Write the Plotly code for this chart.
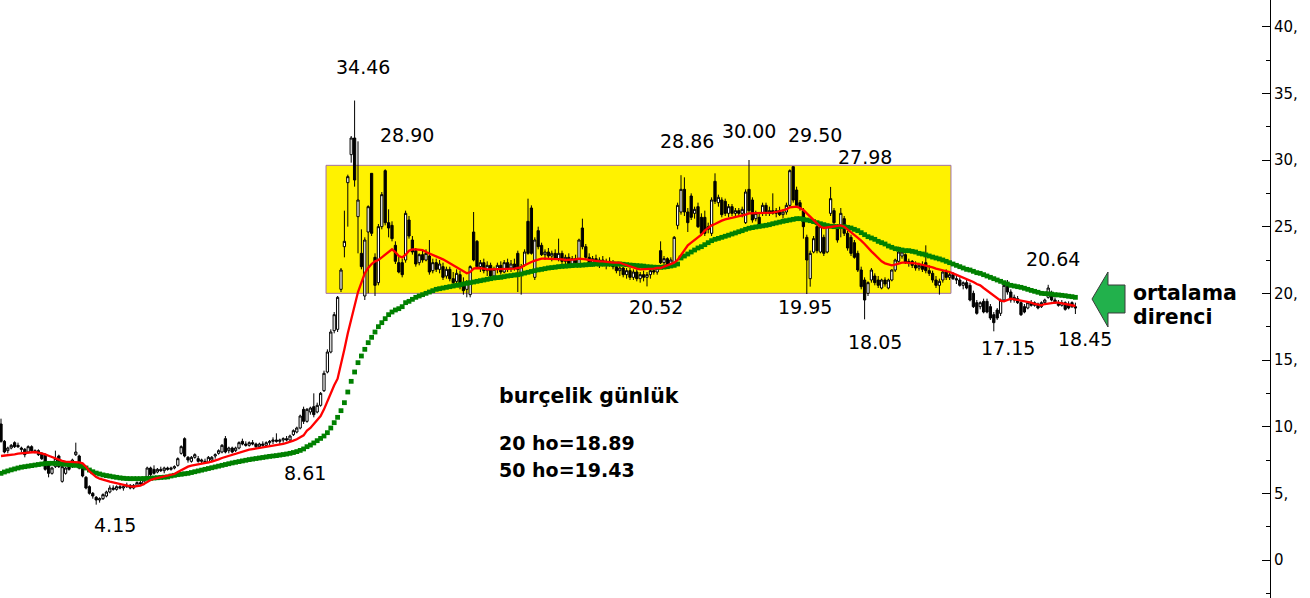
import plotly.graph_objects as go

# ---------------- data ----------------
open_ = [
    10.2, 8.9, 8.2, 8.4, 8.8, 8.6, 8.4, 8.3, 8.1, 8.5,
    8.2, 8.2, 8.0, 7.9, 7.3, 6.5, 7.0, 7.8, 5.9, 6.5,
    7.1, 7.0, 7.9, 7.8, 6.9, 6.2, 5.5, 5.0, 4.7, 4.5,
    4.6, 4.8, 5.1, 5.4, 5.3, 5.5, 5.4, 5.5, 5.6, 5.4,
    5.6, 5.8, 5.7, 6.2, 6.9, 6.8, 6.6, 6.8, 6.7, 6.9,
    6.8, 6.9, 7.1, 8.0, 9.1, 7.7, 7.4, 7.7, 7.6, 7.4,
    7.4, 7.3, 7.5, 7.8, 8.0, 8.1, 9.1, 8.2, 8.4, 8.2,
    8.4, 8.9, 8.7, 8.6, 8.8, 8.7, 8.5, 8.7, 8.6, 8.8,
    8.9, 9.0, 8.9, 9.0, 9.1, 9.0, 9.4, 9.6, 9.9, 11.3,
    10.4, 11.1, 11.5, 11.1, 11.6, 12.7, 14.1, 15.6, 17.2, 17.3,
    20.3, 23.5, 28.3, 30.4, 31.65, 25.75, 23.0, 19.8, 24.6, 29.0,
    22.7, 20.8, 25.0, 29.2, 25.3, 25.1, 23.6, 22.3, 22.3, 22.5,
    25.5, 24.0, 23.2, 22.3, 22.9, 22.5, 22.8, 21.7, 22.3, 21.8,
    22.0, 21.3, 21.8, 21.1, 20.9, 21.4, 20.6, 20.3, 19.9, 24.6,
    23.9, 22.0, 22.3, 21.7, 22.1, 21.3, 21.8, 22.1, 21.6, 22.3,
    21.9, 22.2, 23.0, 21.5, 22.1, 25.4, 26.4, 21.2, 24.7, 23.6,
    22.9, 23.1, 22.8, 23.0, 22.6, 23.0, 22.4, 22.7, 22.2, 22.6,
    22.1, 24.9, 23.5, 22.7, 22.3, 22.6, 22.2, 22.5, 22.1, 22.4,
    22.2, 22.0, 21.7, 21.9, 21.4, 21.7, 21.2, 21.6, 21.1, 21.4,
    21.2, 21.4, 21.7, 21.6, 23.2, 22.3, 22.6, 22.1, 22.3, 25.1,
    26.1, 27.8, 26.1, 27.3, 26.0, 26.5, 25.7, 25.7, 25.0, 24.5,
    28.4, 26.8, 27.0, 26.9, 26.0, 26.5, 26.0, 26.2, 26.0, 25.3,
    27.8, 27.0, 25.6, 25.7, 26.0, 26.6, 26.0, 26.2, 26.0, 26.2,
    25.9, 26.1, 26.6, 29.5, 27.75, 26.8, 26.2, 24.2, 21.1, 23.1,
    25.0, 23.1, 24.2, 23.1, 26.0, 26.2, 25.0, 24.9, 25.6, 24.5,
    24.2, 23.8, 23.0, 21.75, 21.0, 20.0, 21.0, 21.3, 21.0, 20.4,
    21.0, 20.4, 21.0, 21.75, 22.4, 22.8, 22.9, 22.3, 22.4, 22.1,
    21.9, 22.1, 22.3, 21.7, 21.5, 21.0, 20.6, 21.0, 21.6, 21.2,
    21.4, 21.1, 21.0, 20.6, 20.8, 20.6, 20.0, 19.3, 19.0, 19.4,
    19.4, 19.0, 18.4, 18.75, 18.5, 19.5, 20.8, 20.1, 19.5, 19.6,
    19.3, 19.0, 18.9, 19.3, 19.1, 19.2, 19.0, 19.3, 19.7, 20.0,
    19.5, 19.3, 19.1, 19.3, 19.2, 19.3, 19.0,
]
high = [
    10.6, 9.0, 8.5, 8.7, 8.9, 8.8, 8.5, 8.4, 8.6, 8.6,
    8.3, 8.3, 8.1, 8.0, 7.4, 7.0, 8.2, 7.9, 7.1, 7.0,
    7.2, 7.6, 8.8, 7.9, 7.0, 6.3, 5.6, 5.1, 4.8, 4.7,
    5.0, 5.2, 5.6, 5.6, 5.6, 5.7, 5.6, 5.8, 5.7, 5.7,
    5.9, 6.1, 6.1, 7.0, 7.0, 7.1, 6.9, 7.0, 7.0, 7.0,
    7.0, 7.1, 7.7, 8.6, 9.2, 7.8, 7.8, 8.0, 7.8, 7.6,
    7.6, 7.8, 7.8, 8.0, 8.3, 8.7, 9.3, 8.5, 8.5, 8.5,
    8.9, 9.1, 8.9, 8.9, 9.0, 8.8, 8.8, 8.9, 8.9, 9.0,
    9.2, 9.5, 9.1, 9.2, 9.3, 9.4, 9.8, 10.0, 10.9, 11.5,
    11.4, 11.5, 12.5, 11.8, 12.6, 14.2, 15.8, 17.3, 18.6, 19.8,
    21.9, 26.2, 28.9, 31.8, 34.46, 31.4, 24.8, 24.2, 26.6, 29.0,
    23.0, 25.2, 27.6, 29.3, 26.3, 25.4, 23.9, 22.8, 22.6, 26.2,
    25.8, 24.3, 23.4, 23.0, 23.2, 23.3, 24.0, 22.6, 22.6, 22.5,
    22.3, 22.0, 22.0, 21.6, 21.8, 21.7, 21.2, 21.0, 22.1, 26.1,
    24.0, 22.5, 22.6, 22.4, 22.3, 22.0, 22.3, 22.4, 22.5, 22.6,
    22.5, 22.6, 23.2, 22.2, 23.3, 27.1, 26.6, 24.2, 25.0, 23.8,
    23.3, 23.4, 23.2, 23.3, 24.1, 23.2, 22.9, 23.0, 22.8, 22.9,
    24.1, 25.6, 23.7, 23.0, 22.8, 22.9, 22.7, 22.8, 22.6, 22.7,
    22.5, 22.3, 22.1, 22.0, 21.9, 21.9, 21.8, 21.8, 21.6, 21.7,
    21.6, 21.8, 22.0, 22.1, 23.9, 22.8, 22.7, 22.7, 24.3, 26.8,
    28.86, 28.7, 26.4, 27.5, 26.5, 26.8, 26.0, 26.2, 25.3, 27.2,
    29.0, 27.4, 27.2, 27.1, 26.7, 26.7, 26.4, 26.4, 26.5, 27.8,
    30.0, 27.2, 26.2, 26.0, 26.8, 26.8, 26.5, 27.5, 26.4, 26.5,
    26.3, 26.8, 29.3, 29.5, 28.0, 27.0, 26.4, 24.4, 23.2, 24.3,
    25.2, 25.2, 24.4, 25.2, 27.98, 26.4, 25.2, 26.4, 25.8, 24.7,
    24.4, 24.0, 23.2, 22.0, 21.2, 20.9, 21.9, 21.5, 21.3, 21.1,
    21.2, 21.1, 21.8, 22.6, 23.5, 23.3, 23.0, 22.6, 22.5, 22.4,
    22.3, 22.4, 23.6, 22.1, 21.7, 21.3, 21.1, 21.7, 21.8, 21.6,
    21.6, 21.4, 21.2, 20.9, 21.0, 20.8, 20.2, 19.5, 19.4, 19.6,
    19.6, 19.2, 18.6, 18.9, 19.6, 20.8, 21.0, 20.3, 19.9, 19.8,
    19.5, 19.2, 19.4, 19.5, 19.4, 19.3, 19.4, 19.6, 20.64, 20.2,
    19.7, 19.5, 19.5, 19.4, 19.4, 19.4, 19.3,
]
low = [
    8.8, 8.0, 8.0, 8.3, 8.4, 8.4, 8.1, 7.7, 8.0, 8.1,
    8.0, 7.8, 7.5, 6.7, 6.2, 6.4, 6.9, 6.9, 5.8, 6.4,
    6.7, 6.9, 7.8, 6.8, 6.2, 5.3, 4.9, 4.6, 4.15, 4.3,
    4.5, 4.7, 5.0, 5.2, 5.2, 5.3, 5.2, 5.4, 5.3, 5.3,
    5.5, 5.6, 5.6, 6.1, 6.3, 6.4, 6.5, 6.6, 6.5, 6.7,
    6.7, 6.8, 7.0, 7.9, 7.7, 7.3, 7.3, 7.6, 7.3, 7.2,
    7.2, 7.3, 7.4, 7.6, 7.9, 8.0, 8.0, 8.0, 8.0, 8.1,
    8.3, 8.6, 8.5, 8.5, 8.6, 8.4, 8.4, 8.5, 8.5, 8.6,
    8.7, 8.8, 8.7, 8.8, 8.9, 8.9, 9.3, 9.5, 9.8, 10.2,
    10.3, 10.9, 10.7, 11.0, 11.5, 12.6, 14.0, 15.5, 17.0, 17.1,
    20.1, 22.7, 25.0, 29.8, 28.0, 23.0, 21.8, 19.5, 20.0, 24.3,
    19.8, 20.6, 24.8, 25.1, 24.2, 23.9, 22.2, 21.5, 21.2, 22.3,
    24.1, 22.9, 22.0, 22.1, 22.3, 22.4, 21.4, 21.5, 21.6, 21.5,
    21.0, 21.1, 20.9, 20.6, 20.7, 20.3, 19.9, 19.7, 19.7, 22.4,
    21.9, 21.6, 21.5, 21.3, 21.1, 21.0, 21.5, 21.4, 21.5, 21.6,
    21.6, 21.7, 20.1, 19.9, 22.0, 22.9, 22.9, 21.0, 23.3, 22.8,
    22.5, 22.6, 22.4, 22.5, 22.4, 22.2, 22.1, 22.0, 22.0, 22.1,
    22.0, 23.3, 22.5, 22.1, 22.0, 22.1, 21.9, 22.0, 21.8, 22.0,
    21.8, 21.5, 21.3, 21.2, 21.1, 21.0, 21.0, 20.9, 20.8, 20.9,
    20.52, 21.1, 21.4, 21.4, 22.2, 22.0, 22.0, 21.9, 22.2, 24.8,
    25.9, 25.8, 24.6, 25.5, 25.6, 24.9, 24.3, 24.3, 24.5, 24.3,
    26.7, 26.5, 25.7, 25.8, 25.7, 25.8, 25.8, 25.8, 25.7, 25.2,
    26.0, 25.3, 25.4, 24.9, 25.8, 25.8, 25.8, 25.9, 25.7, 25.8,
    25.6, 25.9, 26.4, 26.8, 26.4, 26.2, 24.1, 19.95, 20.5, 23.0,
    23.0, 23.0, 22.8, 23.0, 25.8, 25.1, 23.8, 24.2, 24.3, 23.2,
    22.8, 22.6, 21.6, 20.3, 18.05, 19.8, 20.8, 20.6, 20.4, 20.3,
    20.5, 20.3, 20.9, 21.6, 22.3, 22.6, 22.2, 22.0, 21.9, 21.7,
    21.7, 21.6, 21.5, 21.3, 20.8, 20.4, 19.9, 20.8, 21.0, 21.0,
    21.0, 20.7, 20.5, 20.3, 20.3, 19.4, 18.9, 18.4, 18.8, 18.5,
    18.5, 18.0, 17.15, 18.0, 18.3, 19.4, 19.9, 19.3, 19.3, 19.2,
    18.3, 18.5, 18.8, 19.0, 19.0, 18.8, 18.9, 19.2, 19.6, 19.4,
    19.2, 19.0, 19.0, 18.7, 18.8, 18.9, 18.45,
]
close = [
    8.9, 8.1, 8.4, 8.6, 8.5, 8.5, 8.3, 7.9, 8.5, 8.2,
    8.1, 7.9, 7.6, 6.8, 6.5, 6.9, 7.6, 7.0, 7.0, 6.9,
    6.8, 7.5, 8.1, 6.9, 6.3, 5.4, 5.0, 4.8, 4.5, 4.6,
    4.9, 5.1, 5.4, 5.3, 5.5, 5.4, 5.5, 5.6, 5.4, 5.6,
    5.8, 5.7, 6.0, 6.9, 6.4, 6.5, 6.8, 6.7, 6.9, 6.8,
    6.9, 7.0, 7.6, 8.5, 7.8, 7.5, 7.7, 7.9, 7.4, 7.5,
    7.3, 7.7, 7.7, 7.9, 8.2, 8.6, 8.1, 8.4, 8.1, 8.4,
    8.8, 8.7, 8.6, 8.8, 8.7, 8.5, 8.7, 8.6, 8.8, 8.9,
    9.0, 8.9, 9.0, 9.1, 9.0, 9.3, 9.7, 9.9, 10.8, 10.4,
    11.3, 11.4, 10.9, 11.6, 12.5, 14.0, 15.6, 17.1, 18.4, 19.7,
    21.75, 23.9, 28.75, 31.65, 28.5, 27.0, 22.0, 24.0, 26.5, 24.5,
    20.6, 25.0, 27.4, 25.3, 24.9, 24.1, 22.4, 21.6, 21.4, 26.0,
    24.3, 23.1, 22.2, 22.9, 22.5, 23.0, 21.6, 22.3, 21.8, 22.2,
    21.2, 21.8, 21.1, 20.8, 21.5, 20.5, 20.2, 20.8, 22.0, 22.5,
    22.0, 22.3, 21.7, 22.1, 21.3, 21.8, 22.1, 21.6, 22.3, 21.9,
    22.2, 21.9, 21.8, 22.0, 23.1, 23.0, 23.0, 24.0, 23.5, 22.9,
    23.1, 22.8, 23.0, 22.6, 23.0, 22.4, 22.7, 22.2, 22.6, 22.3,
    24.0, 23.5, 22.7, 22.3, 22.6, 22.2, 22.5, 22.1, 22.4, 22.2,
    22.0, 21.7, 21.9, 21.4, 21.7, 21.2, 21.6, 21.1, 21.4, 21.2,
    21.4, 21.7, 21.6, 21.9, 22.3, 22.6, 22.1, 22.5, 24.2, 26.6,
    27.8, 26.1, 25.3, 25.7, 26.3, 25.0, 24.5, 24.5, 24.8, 27.0,
    26.9, 27.2, 25.9, 26.0, 26.5, 26.0, 26.2, 26.0, 26.3, 27.6,
    26.2, 25.5, 26.0, 25.1, 26.6, 26.0, 26.2, 26.0, 26.2, 25.9,
    26.1, 26.6, 29.2, 27.0, 26.6, 26.4, 25.0, 22.5, 23.0, 24.1,
    23.2, 25.0, 23.0, 25.0, 27.1, 25.3, 24.0, 26.0, 24.5, 23.4,
    23.0, 22.7, 21.75, 20.5, 19.5, 20.8, 21.75, 20.8, 20.6, 21.0,
    20.7, 21.0, 21.75, 22.5, 23.1, 23.1, 22.3, 22.4, 22.1, 21.9,
    22.1, 21.8, 21.7, 21.5, 21.0, 20.6, 20.9, 21.6, 21.2, 21.4,
    21.1, 21.0, 20.6, 20.8, 20.4, 19.5, 19.0, 18.5, 19.3, 18.6,
    18.6, 18.15, 17.8, 18.15, 19.5, 20.6, 20.1, 19.5, 19.7, 19.3,
    18.4, 18.6, 19.3, 19.1, 19.3, 18.9, 19.3, 19.5, 20.4, 19.5,
    19.3, 19.1, 19.3, 18.8, 18.9, 19.0, 18.9,
]
ma20 = [
    7.8, 7.82, 7.85, 7.9, 7.93, 7.97, 8.0, 8.03, 8.06, 8.1,
    8.1, 8.05, 8.0, 7.92, 7.82, 7.72, 7.62, 7.52, 7.44, 7.38,
    7.36, 7.35, 7.35, 7.32, 7.25, 7.0, 6.65, 6.4, 6.22, 6.1,
    6.0, 5.95, 5.88, 5.82, 5.78, 5.7, 5.62, 5.56, 5.52, 5.5,
    5.52, 5.58, 5.7, 5.85, 6.0, 6.08, 6.14, 6.2, 6.24, 6.28,
    6.35, 6.45, 6.6, 6.75, 6.9, 7.0, 7.08, 7.14, 7.2, 7.25,
    7.28, 7.33, 7.38, 7.45, 7.55, 7.65, 7.73, 7.82, 7.9, 7.98,
    8.05, 8.12, 8.2, 8.27, 8.32, 8.36, 8.4, 8.44, 8.47, 8.5,
    8.53, 8.57, 8.62, 8.7, 8.78, 8.85, 8.95, 9.05, 9.18, 9.35,
    9.7, 9.9, 10.2, 10.5, 10.8, 11.3, 11.9, 12.6, 13.1, 13.6,
    14.6, 15.8, 17.0, 18.1, 19.1, 20.1, 20.8, 21.5, 21.9, 22.2,
    22.4, 22.5, 22.7, 22.9, 23.1, 23.3, 23.1, 22.8, 22.7, 22.9,
    23.2, 23.3, 23.3, 23.3, 23.25, 23.1, 23.0, 22.9, 22.8, 22.65,
    22.55, 22.4, 22.25, 22.1, 21.9, 21.75, 21.6, 21.5, 21.6, 21.85,
    21.9, 21.9, 21.85, 21.8, 21.8, 21.8, 21.8, 21.8, 21.8, 21.85,
    21.85, 21.85, 21.9, 21.95, 22.1, 22.25, 22.35, 22.45, 22.55, 22.6,
    22.6, 22.6, 22.6, 22.6, 22.6, 22.55, 22.5, 22.5, 22.5, 22.55,
    22.6, 22.6, 22.55, 22.5, 22.45, 22.4, 22.4, 22.4, 22.35, 22.3,
    22.3, 22.3, 22.3, 22.2, 22.1, 22.0, 21.95, 21.85, 21.8, 21.8,
    21.8, 21.8, 21.85, 21.9, 21.9, 22.0, 22.1, 22.2, 22.3, 22.5,
    22.9, 23.3, 23.6, 23.8, 24.0, 24.25, 24.4, 24.7, 24.9, 25.1,
    25.2, 25.35, 25.45, 25.55, 25.6, 25.65, 25.7, 25.75, 25.8, 25.9,
    26.0, 26.0, 26.0, 26.0, 26.0, 26.0, 26.0, 26.05, 26.1, 26.15,
    26.2, 26.3, 26.45, 26.5, 26.5, 26.4, 26.25, 26.0, 25.75, 25.5,
    25.2, 25.0, 24.9, 24.95, 25.0, 25.05, 25.1, 25.1, 25.0, 24.8,
    24.6, 24.4, 24.2, 23.95, 23.7, 23.4, 23.15, 22.9, 22.65, 22.4,
    22.25, 22.15, 22.1, 22.15, 22.25, 22.3, 22.3, 22.3, 22.3, 22.25,
    22.2, 22.15, 22.1, 22.0, 21.95, 21.85, 21.8, 21.75, 21.65, 21.6,
    21.5, 21.4, 21.3, 21.2, 21.1, 21.0, 20.85, 20.7, 20.6, 20.4,
    20.2, 20.0, 19.8, 19.6, 19.45, 19.4, 19.5, 19.6, 19.55, 19.5,
    19.5, 19.4, 19.35, 19.3, 19.2, 19.15, 19.1, 19.2, 19.25, 19.3,
    19.3, 19.3, 19.25, 19.2, 19.15, 19.1, 19.05,
]
ma50 = [
    6.5, 6.6, 6.68, 6.76, 6.83, 6.9, 6.96, 7.0, 7.04, 7.08,
    7.12, 7.16, 7.2, 7.23, 7.25, 7.25, 7.24, 7.22, 7.2, 7.18,
    7.15, 7.12, 7.1, 7.06, 7.02, 6.9, 6.75, 6.62, 6.52, 6.45,
    6.38, 6.33, 6.29, 6.24, 6.2, 6.16, 6.13, 6.11, 6.1, 6.1,
    6.1, 6.1, 6.11, 6.12, 6.13, 6.15, 6.17, 6.19, 6.21, 6.23,
    6.3, 6.35, 6.4, 6.43, 6.47, 6.5, 6.56, 6.62, 6.68, 6.74,
    6.8, 6.86, 6.92, 6.98, 7.04, 7.1, 7.16, 7.22, 7.28, 7.33,
    7.38, 7.43, 7.48, 7.53, 7.57, 7.61, 7.65, 7.69, 7.73, 7.77,
    7.8, 7.83, 7.87, 7.91, 7.95, 8.0, 8.06, 8.13, 8.22, 8.33,
    8.5, 8.62, 8.78, 8.95, 9.12, 9.3, 9.55, 9.9, 10.3, 10.7,
    11.2, 11.8, 12.6, 13.4, 14.1, 14.8, 15.3, 15.8, 16.3, 16.7,
    17.1, 17.5, 17.8, 18.1, 18.4, 18.6, 18.75, 18.85, 19.0, 19.3,
    19.4, 19.55, 19.7, 19.8, 19.9, 20.0, 20.1, 20.2, 20.3, 20.35,
    20.4, 20.45, 20.5, 20.55, 20.6, 20.65, 20.7, 20.75, 20.8, 20.85,
    20.9, 20.95, 21.0, 21.05, 21.1, 21.15, 21.18, 21.2, 21.25, 21.3,
    21.33, 21.37, 21.4, 21.45, 21.52, 21.58, 21.64, 21.7, 21.76, 21.8,
    21.85, 21.9, 21.93, 21.96, 22.0, 22.02, 22.04, 22.06, 22.08, 22.1,
    22.1, 22.12, 22.14, 22.16, 22.18, 22.2, 22.2, 22.2, 22.2, 22.2,
    22.2, 22.2, 22.2, 22.18, 22.15, 22.12, 22.1, 22.08, 22.06, 22.04,
    22.0, 21.98, 21.96, 21.95, 21.95, 21.97, 22.0, 22.05, 22.1, 22.2,
    22.65, 22.8, 22.95, 23.1, 23.25, 23.4, 23.5, 23.65, 23.8, 23.95,
    24.05, 24.12, 24.2, 24.28, 24.36, 24.45, 24.53, 24.62, 24.7, 24.8,
    24.88, 24.93, 24.98, 25.02, 25.06, 25.1, 25.15, 25.22, 25.28, 25.34,
    25.4, 25.45, 25.5, 25.55, 25.6, 25.6, 25.55, 25.5, 25.45, 25.38,
    25.3, 25.22, 25.15, 25.08, 25.03, 25.0, 25.0, 25.0, 25.0, 24.95,
    24.9, 24.8, 24.7, 24.55, 24.4, 24.25, 24.15, 24.05, 23.9, 23.8,
    23.7, 23.55, 23.45, 23.35, 23.3, 23.25, 23.2, 23.2, 23.15, 23.1,
    23.0, 22.95, 22.88, 22.8, 22.72, 22.65, 22.58, 22.5, 22.4, 22.3,
    22.2, 22.1, 22.0, 21.9, 21.8, 21.75, 21.65, 21.55, 21.5, 21.4,
    21.3, 21.2, 21.1, 21.0, 20.9, 20.8, 20.7, 20.6, 20.55, 20.5,
    20.45, 20.38, 20.3, 20.22, 20.15, 20.08, 20.0, 19.98, 19.96, 19.94,
    19.9, 19.88, 19.85, 19.82, 19.78, 19.75, 19.7,
]
tick_values = [0, 5, 10, 15, 20, 25, 30, 35, 40]
tick_labels = ["0", "5,", "10,", "15,", "20,", "25,", "30,", "35,", "40,"]
zone_low, zone_high = 20.0, 29.6          # yellow range box (price levels)
zone_start, zone_end = 95.6, 279.4        # bar positions of the box

# ---------------- figure ----------------
W, H = 1310, 598
PW = 1270                                # plot-area width in px
BAR_PX = 3.4                             # px per bar
x_lo = -1 / BAR_PX
x_hi = (PW - 1) / BAR_PX
idx = list(range(len(close)))

def px(x):
    return x / PW

def py(y):
    return 1 - y / H

fig = go.Figure()
fig.add_trace(go.Candlestick(
    x=idx, open=open_, high=high, low=low, close=close,
    increasing=dict(line=dict(color="black", width=1), fillcolor="white"),
    decreasing=dict(line=dict(color="black", width=1), fillcolor="black"),
    whiskerwidth=0, showlegend=False, hoverinfo="skip"))
fig.add_trace(go.Scatter(
    x=idx, y=ma50, mode="markers", showlegend=False, hoverinfo="skip",
    marker=dict(symbol="square", size=4.8, color="#008000", line=dict(width=0))))
fig.add_trace(go.Scatter(
    x=idx, y=ma20, mode="lines", showlegend=False, hoverinfo="skip",
    line=dict(color="#FF0000", width=2.3)))

shapes = [dict(type="rect", xref="x", yref="y", x0=zone_start, x1=zone_end,
               y0=zone_low, y1=zone_high, fillcolor="#FFF200",
               line=dict(color="#A070A8", width=1), layer="below")]

arrow_pts = [(1092, 299), (1108, 272), (1108, 285), (1125, 285),
             (1125, 313), (1108, 313), (1108, 327)]
path = "M " + " L ".join(f"{px(a):.5f},{py(b):.5f}" for a, b in arrow_pts) + " Z"
shapes.append(dict(type="path", xref="paper", yref="paper", path=path,
                   fillcolor="#22B14C", line=dict(color="#3a3a3a", width=1)))

NUM_FONT = dict(family="DejaVu Sans", size=19, color="black")
HO_FONT = dict(family="DejaVu Sans", size=19, color="black")
WORD_FONT = dict(family="DejaVu Sans", size=20.5, color="black")
labels = [
    ("34.46", 363, 67), ("28.90", 407, 135), ("28.86", 687, 141),
    ("30.00", 749, 131), ("29.50", 815, 135), ("27.98", 865, 157),
    ("19.70", 477, 320), ("20.52", 656, 307), ("19.95", 805, 307),
    ("18.05", 875, 342), ("17.15", 1008, 348), ("20.64", 1053, 259),
    ("18.45", 1085, 339), ("4.15", 115, 525), ("8.61", 305, 473),
]
annotations = [dict(text=t, x=px(a), y=py(b), xref="paper", yref="paper",
                    xanchor="center", yanchor="middle", showarrow=False,
                    font=NUM_FONT) for t, a, b in labels]
bold_texts = [
    ("<b>burçelik günlük</b>", 497, 396, WORD_FONT),
    ("<b>20 ho=18.89</b>", 497, 443, HO_FONT),
    ("<b>50 ho=19.43</b>", 497, 470, HO_FONT),
    ("<b>ortalama</b>", 1131, 293, WORD_FONT),
    ("<b>direnci</b>", 1131, 317, WORD_FONT),
]
annotations += [dict(text=t, x=px(a), y=py(b), xref="paper", yref="paper",
                     xanchor="left", yanchor="middle", showarrow=False,
                     font=f) for t, a, b, f in bold_texts]

fig.update_layout(
    width=W, height=H, margin=dict(l=0, r=W - PW, t=0, b=0),
    paper_bgcolor="white", plot_bgcolor="white", showlegend=False,
    shapes=shapes, annotations=annotations, boxgap=0.05,
    xaxis=dict(range=[x_lo, x_hi], visible=False,
               rangeslider=dict(visible=False), fixedrange=True),
    yaxis=dict(range=[-2.85, 42.0], side="right", showgrid=False,
               zeroline=False, showline=True, linecolor="black", linewidth=1,
               ticks="inside", ticklen=8, tickcolor="black",
               tickvals=tick_values, ticktext=tick_labels,
               tickfont=dict(family="DejaVu Sans", size=15, color="black"),
               minor=dict(ticks="inside", ticklen=4, dtick=2.5,
                          tickcolor="black", showgrid=False),
               fixedrange=True),
)

fig.write_html("out.html", post_script="document.body.style.margin='0';",
               config={"displayModeBar": False})
